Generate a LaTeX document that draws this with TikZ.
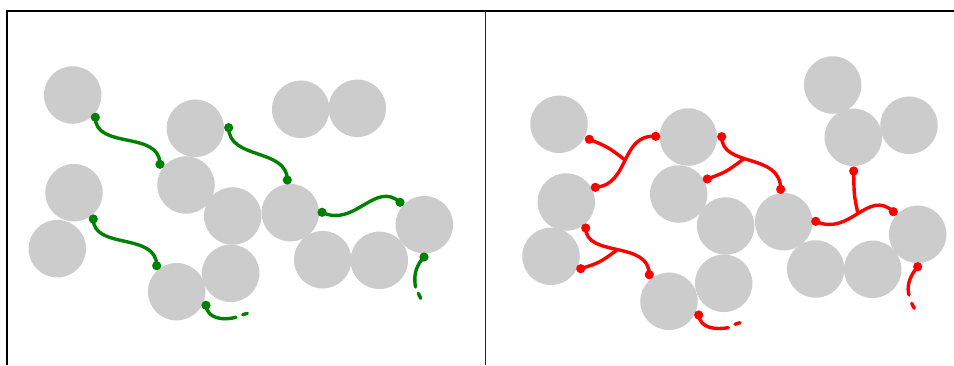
\documentclass[tikz,border=0pt]{standalone}
\definecolor{bead}{HTML}{CCCCCC}
\definecolor{gchain}{RGB}{0,128,0}
\definecolor{rchain}{RGB}{255,0,0}
\tikzset{
  ball/.style={circle,fill=bead,draw=none,minimum size=57.5pt,inner sep=0pt},
  gline/.style={draw=gchain,line width=3.4pt,line cap=round},
  rline/.style={draw=rchain,line width=3.4pt,line cap=round},
  gdot/.style={fill=gchain},
  rdot/.style={fill=rchain},
  frame/.style={draw=black,line width=1.6pt},
  divider/.style={draw=black!85,line width=1.2pt}
}
\begin{document}
\begin{tikzpicture}[x=1pt,y=-1pt]
\useasboundingbox (0,0) rectangle (954,365);
% frame
\draw[frame] (7,365) -- (7,11) -- (954,11);
\draw[divider] (485.5,11) -- (485.5,365);
% ---------- left panel balls ----------
\node[ball] (L1) at (72.7,95) {};
\node[ball] (L2) at (195.3,128.3) {};
\node[ball] (L3) at (300.7,109.3) {};
\node[ball] (L4) at (357.3,108.3) {};
\node[ball] (L5) at (74,192.7) {};
\node[ball] (L6) at (57.3,248.7) {};
\node[ball] (L7) at (186,185) {};
\node[ball] (L8) at (232.7,216) {};
\node[ball] (L9) at (290.3,212.7) {};
\node[ball] (L10) at (424.3,224.7) {};
\node[ball] (L11) at (322.7,259.7) {};
\node[ball] (L12) at (379.3,260.3) {};
\node[ball] (L13) at (230.7,273.3) {};
\node[ball] (L14) at (176.7,291.7) {};
% ---------- right panel balls ----------
\node[ball] (R1) at (559,124.3) {};
\node[ball] (R2) at (688.3,137) {};
\node[ball] (R3) at (832.7,85) {};
\node[ball] (R4) at (853.3,137.3) {};
\node[ball] (R5) at (909,125.3) {};
\node[ball] (R6) at (566.3,202) {};
\node[ball] (R7) at (551,256.3) {};
\node[ball] (R8) at (678.7,194) {};
\node[ball] (R9) at (725.7,226) {};
\node[ball] (R10) at (783.7,221.7) {};
\node[ball] (R11) at (917.7,234.3) {};
\node[ball] (R12) at (815.7,269) {};
\node[ball] (R13) at (872.7,269.3) {};
\node[ball] (R14) at (723.7,283.3) {};
\node[ball] (R15) at (669,301.3) {};
% ---------- green chain ends ----------
\coordinate (ga1) at (95.3,117.3);  \coordinate (ga2) at (160,164.3);
\coordinate (gb1) at (228.7,127.7); \coordinate (gb2) at (287.3,180);
\coordinate (gc1) at (93.3,219);    \coordinate (gc2) at (156.7,265.7);
\coordinate (gd1) at (322,212.3);   \coordinate (gd2) at (400,202.3);
\coordinate (ge1) at (206,305.3);   \coordinate (ge2) at (236,317.3);
\coordinate (ge3) at (242.7,314.7); \coordinate (ge4) at (247.3,313.3);
\coordinate (gf1) at (424,257);     \coordinate (gf2) at (415.5,287);
\coordinate (gf3) at (418.3,293.3); \coordinate (gf4) at (420.7,298.3);
\draw[gline] (ga1) .. controls (95.3,150) and (160,130) .. (ga2);
\draw[gline] (gb1) .. controls (228.7,160) and (287.3,148) .. (gb2);
\draw[gline] (gc1) .. controls (93.3,250) and (156.7,232) .. (gc2);
\draw[gline] (gd1) .. controls (355,228) and (375,180) .. (gd2);
\draw[gline] (ge1) .. controls (207,318) and (222,321) .. (ge2);
\draw[gline] (ge3) -- (ge4);
\draw[gline] (gf1) .. controls (414,268) and (414,278) .. (gf2);
\draw[gline] (gf3) -- (gf4);
\foreach \p in {ga1,ga2,gb1,gb2,gc1,gc2,gd1,gd2,ge1,gf1}
  \fill[gdot] (\p) circle (4.6pt);
% ---------- red chain ends ----------
\coordinate (ra1) at (595.3,187.3); \coordinate (ra2) at (655.7,136.3);
\coordinate (ra3) at (589.3,139.3);
\coordinate (rb1) at (721.7,136.7); \coordinate (rb2) at (780.7,189.3);
\coordinate (rb3) at (707.3,179);
\coordinate (rc1) at (585.7,228);   \coordinate (rc2) at (649.3,274.7);
\coordinate (rc3) at (580.7,268.7);
\coordinate (rd1) at (815.7,221.3); \coordinate (rd2) at (893.3,211.7);
\coordinate (rd3) at (853.7,171);
\coordinate (re1) at (698.7,315);   \coordinate (re2) at (728.3,327.7);
\coordinate (re3) at (735,324.3);   \coordinate (re4) at (740,322.7);
\coordinate (rf1) at (917.7,266.7); \coordinate (rf2) at (909,295);
\coordinate (rf3) at (911.7,303.3); \coordinate (rf4) at (914.3,308.3);
\draw[rline] (ra1) .. controls (630,185) and (620,134) .. coordinate[pos=0.5] (ja) (ra2);
\draw[rline] (ra3) .. controls (608,147) .. (ja);
\draw[rline] (rb1) .. controls (721.7,168) and (780.7,152) .. coordinate[pos=0.42] (jb) (rb2);
\draw[rline] (rb3) .. controls (726,172) .. (jb);
\draw[rline] (rc1) .. controls (585.7,258) and (649.3,240) .. coordinate[pos=0.5] (jc) (rc2);
\draw[rline] (rc3) .. controls (600,262.5) .. (jc);
\draw[rline] (rd1) .. controls (850,237) and (868,188) .. coordinate[pos=0.5] (jd) (rd2);
\draw[rline] (rd3) .. controls (854,195) .. (jd);
\draw[rline] (re1) .. controls (700,328) and (715,330) .. (re2);
\draw[rline] (re3) -- (re4);
\draw[rline] (rf1) .. controls (908,278) and (907,288) .. (rf2);
\draw[rline] (rf3) -- (rf4);
\foreach \p in {ra1,ra2,ra3,rb1,rb2,rb3,rc1,rc2,rc3,rd1,rd2,rd3,re1,rf1}
  \fill[rdot] (\p) circle (4.6pt);
\end{tikzpicture}
\end{document}
